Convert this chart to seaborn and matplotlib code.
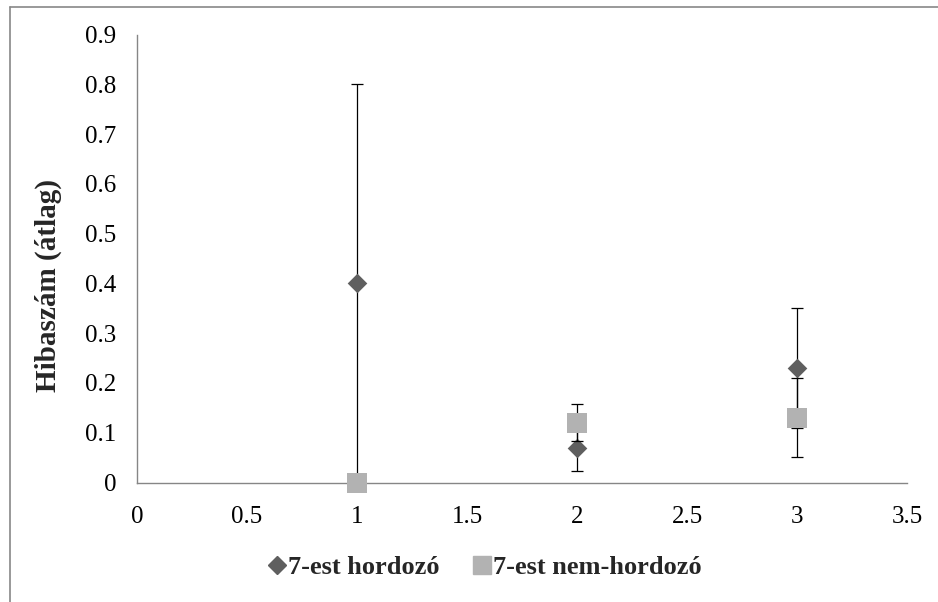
import matplotlib
matplotlib.use("Agg")
import matplotlib.pyplot as plt
from matplotlib.lines import Line2D
import seaborn as sns
import pandas as pd

# Mean error counts per group, with error-bar half-widths
positions = [1, 2, 3]
carrier_mean = [0.40, 0.07, 0.23]
carrier_err = [0.40, 0.046, 0.121]
noncarrier_mean = [0.00, 0.12, 0.13]
noncarrier_err = [0.00, 0.037, 0.079]
series_names = ["7-est hordozó", "7-est nem-hordozó"]
x_ticks = [0, 0.5, 1, 1.5, 2, 2.5, 3, 3.5]
y_ticks = [0, 0.1, 0.2, 0.3, 0.4, 0.5, 0.6, 0.7, 0.8, 0.9]

sns.set_style("white")
plt.rcParams["font.family"] = ["Liberation Serif", "DejaVu Serif"]

df = pd.DataFrame({
    "x": positions * 2,
    "y": carrier_mean + noncarrier_mean,
    "err": carrier_err + noncarrier_err,
    "group": [series_names[0]] * 3 + [series_names[1]] * 3,
})

fig = plt.figure(figsize=(9.38, 6.02), dpi=100)
ax = fig.add_axes([0.146, 0.1985, 0.821, 0.744])

colors = {series_names[0]: "#5f5f5f", series_names[1]: "#b2b2b2"}
markers = {series_names[0]: "D", series_names[1]: "s"}
sizes = {series_names[0]: 10.0, series_names[1]: 14.4}

for z, name in enumerate(series_names):
    sub = df[df["group"] == name]
    ax.errorbar(sub["x"], sub["y"], yerr=sub["err"], fmt="none",
                ecolor="black", elinewidth=0.9, capsize=4.5, capthick=0.9,
                zorder=2 + 2 * z)
    sns.scatterplot(data=sub, x="x", y="y", marker=markers[name],
                    color=colors[name], s=sizes[name] ** 2, linewidth=0,
                    ax=ax, zorder=3 + 2 * z, legend=False, clip_on=False)

ax.set_xlim(0, 3.5)
ax.set_ylim(0, 0.9)
ax.set_xticks(x_ticks)
ax.set_xticklabels([f"{v:g}" for v in x_ticks])
ax.set_yticks(y_ticks)
ax.set_yticklabels([f"{v:g}" for v in y_ticks])
ax.tick_params(axis="both", length=0, labelsize=18, colors="black")
ax.tick_params(axis="y", pad=15)
ax.tick_params(axis="x", pad=17)
ax.set_xlabel("")
ax.set_ylabel("Hibaszám (átlag)", fontsize=21, fontweight="bold")
ax.yaxis.set_label_coords(-0.097, 0.44)

for side in ["top", "right"]:
    ax.spines[side].set_visible(False)
for side in ["left", "bottom"]:
    ax.spines[side].set_color("#868686")
    ax.spines[side].set_linewidth(1.0)

handles = [
    Line2D([], [], marker="D", color=colors[series_names[0]], linestyle="none",
           markersize=9),
    Line2D([], [], marker="s", color=colors[series_names[1]], linestyle="none",
           markersize=13),
]
fig.legend(handles, series_names, loc="center", bbox_to_anchor=(0.515, 0.057),
           ncol=2, frameon=False, handletextpad=-0.08, columnspacing=1.1,
           handlelength=1.0, prop={"size": 19, "weight": "bold"})

# Outer chart-area frame (top and left edges)
fig.add_artist(Line2D([9.5 / 938, 1.0], [1 - 6.5 / 602, 1 - 6.5 / 602],
                      transform=fig.transFigure, color="#888888", lw=1.2))
fig.add_artist(Line2D([9.5 / 938, 9.5 / 938], [0.0, 1 - 6.5 / 602],
                      transform=fig.transFigure, color="#888888", lw=1.2))

fig.savefig("out.png", dpi=100, facecolor="white")
